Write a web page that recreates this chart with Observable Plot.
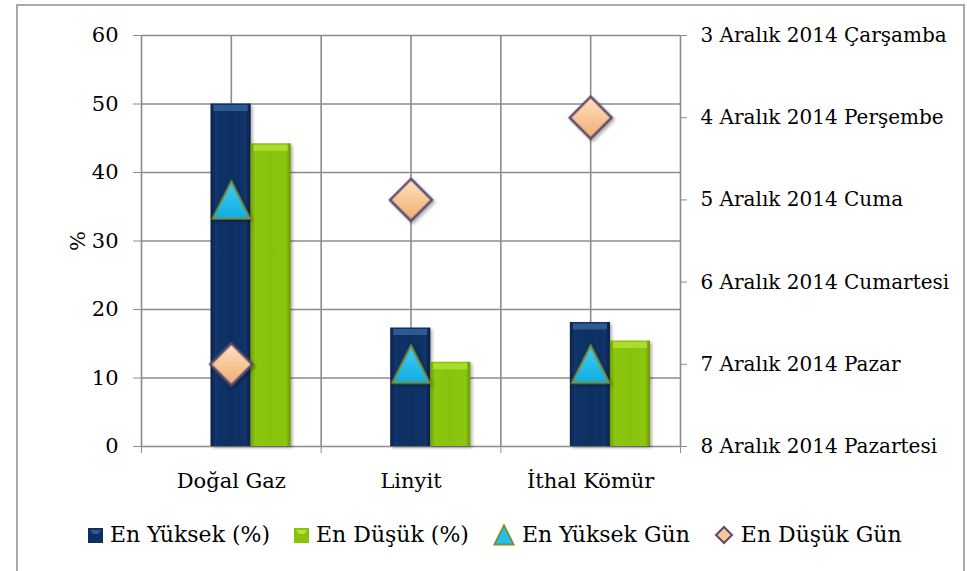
<!DOCTYPE html>
<html>
<head>
<meta charset="utf-8">
<script src="https://cdn.jsdelivr.net/npm/d3@7"></script>
<script src="https://cdn.jsdelivr.net/npm/@observablehq/plot@0.6"></script>
<style>
  body { margin: 0; background: #fff; }
  #wrap { position: relative; width: 967px; height: 571px; overflow: hidden; font-family: "DejaVu Serif", serif; background: #fff; }
  #frame { position: absolute; left: 16px; top: 4px; width: 949px; height: 620px; border: 2px solid #a9a9a9; box-sizing: border-box; pointer-events: none; }
  #chart { position: absolute; left: 0; top: 0; }
  #legend { position: absolute; left: 0; top: 522px; width: 967px; height: 26px; display: flex; align-items: center; padding-left: 88px; box-sizing: border-box; font-size: 22px; line-height: 26px; color: #000; white-space: nowrap; }
  .item { display: flex; align-items: center; margin-right: 24px; }
  .item svg { margin-right: 7px; display: block; }
</style>
</head>
<body>
<div id="wrap">
  <div id="chart"></div>
  <div id="legend"></div>
  <div id="frame"></div>
</div>
<script>
// ---- data ----
const categories = ["Doğal Gaz", "Linyit", "İthal Kömür"];
const enYuksek = [50, 17.3, 18.1];      // En Yüksek (%)
const enDusuk = [44.2, 12.3, 15.4];     // En Düşük (%)
const dates = [
  "3 Aralık 2014 Çarşamba",
  "4 Aralık 2014 Perşembe",
  "5 Aralık 2014 Cuma",
  "6 Aralık 2014 Cumartesi",
  "7 Aralık 2014 Pazar",
  "8 Aralık 2014 Pazartesi"
];
const enYuksekGun = ["5 Aralık 2014 Cuma", "7 Aralık 2014 Pazar", "7 Aralık 2014 Pazar"];
const enDusukGun = ["7 Aralık 2014 Pazar", "5 Aralık 2014 Cuma", "4 Aralık 2014 Perşembe"];
const leftTicks = [0, 10, 20, 30, 40, 50, 60];
const seriesNames = ["En Yüksek (%)", "En Düşük (%)", "En Yüksek Gün", "En Düşük Gün"];

// secondary (date) axis shares the 0–60 range: first date at top, last at bottom
const yMax = leftTicks[leftTicks.length - 1];
const dateStep = yMax / (dates.length - 1);
const dateValue = d => (dates.length - 1 - dates.indexOf(d)) * dateStep;
const rightTicks = dates.map((d, i) => i * dateStep);

const gridColor = "#8c8c8c";
const nCat = categories.length;
const xGridTicks = d3.range(0, nCat + 0.001, 0.5);
const xBoundaryTicks = d3.range(0, nCat + 1);
const xCenterTicks = categories.map((c, i) => i + 0.5);

// custom marker shapes (bounding box centred on the point, like Excel)
const triSym = { draw(ctx, size) { const h = Math.sqrt(size / Math.PI); ctx.moveTo(0, -h); ctx.lineTo(h, h); ctx.lineTo(-h, h); ctx.closePath(); } };
const diaSym = { draw(ctx, size) { const h = Math.sqrt(size / Math.PI); ctx.moveTo(0, -h); ctx.lineTo(h, 0); ctx.lineTo(0, h); ctx.lineTo(-h, 0); ctx.closePath(); } };

const chart = Plot.plot({
  width: 967,
  height: 505,
  marginLeft: 141,
  marginRight: 287,
  marginTop: 35,
  marginBottom: 59,
  style: { fontFamily: "DejaVu Serif", fontSize: "21px", color: "#000", background: "transparent", overflow: "visible" },
  x: { domain: [0, nCat] },
  y: { domain: [0, yMax] },
  marks: [
    Plot.gridY(leftTicks, { stroke: gridColor, strokeOpacity: 1, strokeWidth: 1.6 }),
    Plot.gridX(xGridTicks, { stroke: gridColor, strokeOpacity: 1, strokeWidth: 1.6 }),
    // bars
    Plot.rect(categories, { x1: (d, i) => i, x2: (d, i) => i + 1, y1: 0, y2: (d, i) => enYuksek[i], insetLeft: 69.5, insetRight: 70, fill: "url(#gNavy)" }),
    Plot.rect(categories, { x1: (d, i) => i, x2: (d, i) => i + 1, y1: 0, y2: (d, i) => enDusuk[i], insetLeft: 109.5, insetRight: 30, fill: "url(#gGreen)" }),
    // bevel caps
    Plot.ruleY(categories, { y: (d, i) => enYuksek[i], x1: (d, i) => i, x2: (d, i) => i + 1, insetLeft: 72.5, insetRight: 73, stroke: "#2d5a92", strokeWidth: 6, dy: 4 }),
    Plot.ruleY(categories, { y: (d, i) => enDusuk[i], x1: (d, i) => i, x2: (d, i) => i + 1, insetLeft: 112.5, insetRight: 33, stroke: "#a9dc2c", strokeWidth: 6, dy: 4 }),
    // axes
    Plot.axisY(leftTicks, { anchor: "left", tickSize: 8, tickPadding: 15, fontSize: 21, stroke: gridColor, fill: "#000", label: "%", labelAnchor: "center", labelOffset: 71, labelArrow: "none" }),
    Plot.axisY(rightTicks, { anchor: "right", tickSize: 6, tickPadding: 14, fontSize: 20, stroke: gridColor, fill: "#000", label: null, tickFormat: v => dates[dates.length - 1 - Math.round(v / dateStep)] }),
    Plot.axisX(xBoundaryTicks, { anchor: "bottom", tickSize: 7, stroke: gridColor, tickFormat: () => "", label: null }),
    Plot.axisX(xCenterTicks, { anchor: "bottom", tickSize: 0, tickPadding: 27, fontSize: 21, fill: "#000", label: null, tickFormat: v => categories[Math.floor(v)] }),
    // markers (secondary axis)
    Plot.dot(categories, { x: (d, i) => i + 0.5, y: (d, i) => dateValue(enYuksekGun[i]), symbol: triSym, r: 18.5, fill: "url(#gCyan)", stroke: "#76923c", strokeWidth: 2 }),
    Plot.dot(categories, { x: (d, i) => i + 0.5, y: (d, i) => dateValue(enDusukGun[i]), symbol: diaSym, r: 21, fill: "url(#gPeach)", stroke: "#5d4a6b", strokeWidth: 2.5 })
  ]
});

// gradients & shadow
const defs = d3.select(chart).insert("defs", ":first-child");
function lin(id, stops, x2 = "1", y2 = "0") {
  const g = defs.append("linearGradient").attr("id", id).attr("x1", "0").attr("y1", "0").attr("x2", x2).attr("y2", y2);
  stops.forEach(([o, c]) => g.append("stop").attr("offset", o).attr("stop-color", c));
}
lin("gNavy", [[0, "#0a2449"], [0.12, "#12346a"], [0.5, "#0f2f60"], [0.88, "#12346a"], [1, "#091f42"]]);
lin("gGreen", [[0, "#6f9c08"], [0.12, "#8cc60e"], [0.5, "#88c20b"], [0.88, "#8cc60e"], [1, "#6a9507"]]);
lin("gCyan", [[0, "#44ccf5"], [1, "#12aee0"]], "0", "1");
lin("gPeach", [[0, "#fde2c2"], [0.5, "#f7c898"], [1, "#eeac74"]], "0", "1");
const f = defs.append("filter").attr("id", "shadow").attr("x", "-30%").attr("y", "-30%").attr("width", "160%").attr("height", "160%");
f.append("feDropShadow").attr("dx", 2).attr("dy", 2).attr("stdDeviation", 1.8).attr("flood-color", "#000").attr("flood-opacity", 0.3);
d3.select(chart).selectAll("g[aria-label=dot]").attr("filter", "url(#shadow)");
d3.select(chart).selectAll("g[aria-label=rect]").attr("filter", "url(#shadow)");

document.getElementById("chart").appendChild(chart);

// legend
const legend = d3.select("#legend");
const swatches = [
  sel => { sel.attr("width", 15).attr("height", 15); sel.append("rect").attr("width", 15).attr("height", 15).attr("fill", "#0f2f60"); sel.append("path").attr("d", "M2,2H13L10,6H5Z").attr("fill", "#2d5a92"); },
  sel => { sel.attr("width", 15).attr("height", 15); sel.append("rect").attr("width", 15).attr("height", 15).attr("fill", "#88c20b"); sel.append("path").attr("d", "M2,2H13L10,6H5Z").attr("fill", "#b8e43a"); },
  sel => { sel.attr("width", 22).attr("height", 22); sel.append("path").attr("d", "M11,1.5L20.5,20.5H1.5Z").attr("fill", "#1ec0f0").attr("stroke", "#76923c").attr("stroke-width", 2); },
  sel => { sel.attr("width", 20).attr("height", 20); sel.append("path").attr("d", "M10,2L18,10L10,18L2,10Z").attr("fill", "#f7c898").attr("stroke", "#5d4a6b").attr("stroke-width", 2); }
];
seriesNames.forEach((name, i) => {
  const item = legend.append("div").attr("class", "item");
  swatches[i](item.append("svg"));
  item.append("span").text(name);
});
</script>
</body>
</html>
